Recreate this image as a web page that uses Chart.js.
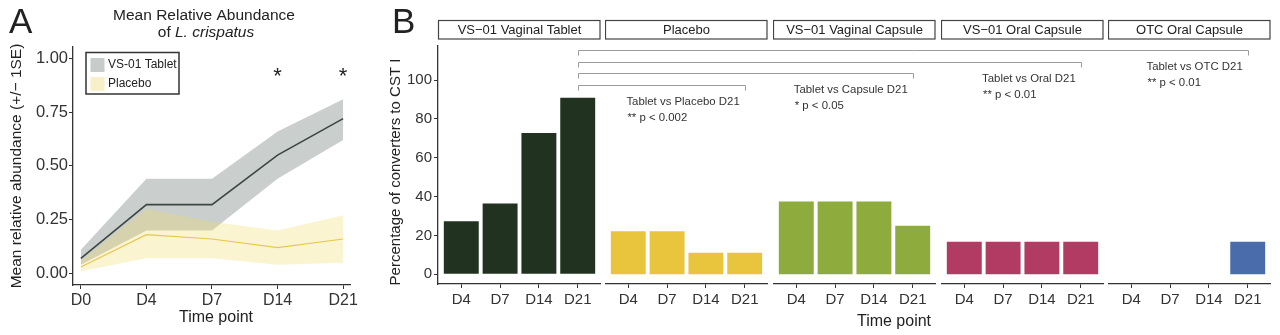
<!DOCTYPE html>
<html>
<head>
<meta charset="utf-8">
<script src="https://cdn.jsdelivr.net/npm/chart.js@4"></script>
<style>
  body { margin: 0; background: #fff; }
  #wrap { position: relative; width: 1280px; height: 335px; overflow: hidden; background: #fff; }
  #wrap canvas { position: absolute; top: 0; }
</style>
</head>
<body>
<div id="wrap"></div>
<script>
// Panel A: mean relative abundance of L. crispatus (+/- 1SE ribbons)
// Panel B: percentage of converters to CST I, faceted by product
const FONT = "'Liberation Sans', Arial, Helvetica, sans-serif";
const INK = '#333333';

// ---------- panel A data ----------
const days = ['D0', 'D4', 'D7', 'D14', 'D21'];
const tabletMean  = [0.07, 0.32, 0.32, 0.55, 0.72];
const tabletUpper = [0.11, 0.44, 0.44, 0.66, 0.81];
const tabletLower = [0.04, 0.20, 0.20, 0.44, 0.62];
const placeboMean  = [0.03, 0.18, 0.16, 0.12, 0.16];
const placeboUpper = [0.06, 0.30, 0.24, 0.20, 0.27];
const placeboLower = [0.01, 0.07, 0.07, 0.04, 0.05];
const yTicksA = [0, 0.25, 0.5, 0.75, 1.0];
const starDays = [3, 4];       // D14, D21 marked significant
const starLevel = 0.94;

// ---------- panel B data ----------
const timePoints = ['D4', 'D7', 'D14', 'D21'];
const groups = ['VS\u221201 Vaginal Tablet', 'Placebo', 'VS\u221201 Vaginal Capsule',
                'VS\u221201 Oral Capsule', 'OTC Oral Capsule'];
const groupColors = ['#213320', '#e8c53c', '#8eab3e', '#b13b63', '#4a6cab'];
const tabletPct      = [27.3, 36.4, 72.7, 90.9];
const placeboPct     = [22.2, 22.2, 11.1, 11.1];
const vagCapsulePct  = [37.5, 37.5, 37.5, 25.0];
const oralCapsulePct = [16.7, 16.7, 16.7, 16.7];
const otcCapsulePct  = [0, 0, 0, 16.7];
const groupValues = [tabletPct, placeboPct, vagCapsulePct, oralCapsulePct, otcCapsulePct];
const yTicksB = [0, 20, 40, 60, 80, 100];

// comparisons: tablet D21 vs each other group at D21
const compGroup  = [1, 2, 3, 4];
const compLevel  = [97.5, 103.5, 109.5, 115.5];
const compLabels = ['Tablet vs Placebo D21', 'Tablet vs Capsule D21',
                    'Tablet vs Oral D21', 'Tablet vs OTC D21'];
const compP      = ['** p < 0.002', '* p < 0.05', '** p < 0.01', '** p < 0.01'];

// ---------- helpers ----------
const wrap = document.getElementById('wrap');
function makeCanvas(left, width) {
    const c = document.createElement('canvas');
    c.width = width; c.height = 335;
    c.style.left = left + 'px';
    c.style.width = width + 'px';
    c.style.height = '335px';
    wrap.appendChild(c);
    return c;
}
function pts(arr) { return arr.map(function (v, i) { return { x: i, y: v }; }); }
function axisStyle() {
    return {
        border: { display: true, color: INK, width: 1.3 },
        grid: { display: true, drawOnChartArea: false, drawTicks: true,
                tickLength: 4, color: INK, lineWidth: 1 }
    };
}
function vText(ctx, text, x, y, size) {
    ctx.save();
    ctx.translate(x, y);
    ctx.rotate(-Math.PI / 2);
    ctx.font = size + 'px ' + FONT;
    ctx.fillStyle = '#222';
    ctx.textAlign = 'center';
    ctx.textBaseline = 'middle';
    ctx.fillText(text, 0, 0);
    ctx.restore();
}

// ---------- panel A ----------
const tabletRibbon = 'rgba(150,160,155,0.5)';
const placeboRibbon = 'rgba(240,218,100,0.30)';

const panelAPlugin = {
    id: 'panelA',
    afterDraw: function (chart) {
        const ctx = chart.ctx;
        const xs = chart.scales.x, ys = chart.scales.y;
        ctx.save();
        ctx.fillStyle = '#222';
        ctx.font = '35px ' + FONT;
        ctx.textAlign = 'left';
        ctx.textBaseline = 'alphabetic';
        ctx.fillText('A', 9, 33);

        // title
        ctx.font = '15.5px ' + FONT;
        ctx.textAlign = 'center';
        ctx.fillText('Mean Relative Abundance', 204, 20);
        const a = 'of ', b = 'L. crispatus';
        const wa = ctx.measureText(a).width;
        ctx.font = 'italic 15.5px ' + FONT;
        const wb = ctx.measureText(b).width;
        const x0 = 206 - (wa + wb) / 2;
        ctx.textAlign = 'left';
        ctx.font = '15.5px ' + FONT;
        ctx.fillText(a, x0, 37);
        ctx.font = 'italic 15.5px ' + FONT;
        ctx.fillText(b, x0 + wa, 37);

        // axis titles
        ctx.font = '16px ' + FONT;
        ctx.textAlign = 'center';
        ctx.textBaseline = 'middle';
        ctx.fillText('Time point', 216, 318);
        ctx.restore();
        vText(ctx, 'Mean relative abundance (+/\u2212 1SE)', 17, 166, 15.5);

        // significance stars
        ctx.save();
        ctx.fillStyle = '#222';
        ctx.font = '22px ' + FONT;
        ctx.textAlign = 'center';
        ctx.textBaseline = 'alphabetic';
        starDays.forEach(function (d) {
            ctx.fillText('*', xs.getPixelForValue(d), ys.getPixelForValue(starLevel) + 12);
        });

        // legend box
        ctx.strokeStyle = '#333';
        ctx.lineWidth = 1.5;
        ctx.strokeRect(86, 52.5, 93, 41.5);
        ctx.fillStyle = '#c7ccca';
        ctx.fillRect(90.5, 58, 14, 14);
        ctx.fillStyle = '#f8f0c9';
        ctx.fillRect(90.5, 77, 14, 14);
        ctx.fillStyle = '#222';
        ctx.font = '12px ' + FONT;
        ctx.textAlign = 'left';
        ctx.textBaseline = 'middle';
        ctx.fillText('VS-01 Tablet', 108, 65);
        ctx.fillText('Placebo', 108, 84);
        ctx.restore();
    }
};

const canvasA = makeCanvas(0, 360);
const axA = axisStyle(), ayA = axisStyle();
new Chart(canvasA, {
    type: 'line',
    data: {
        datasets: [
            { label: 'VS-01 Tablet', data: pts(tabletMean), borderColor: '#3d4742',
              borderWidth: 1.6, pointRadius: 0, fill: false },
            { label: 'Placebo', data: pts(placeboMean), borderColor: '#e6c850',
              borderWidth: 1.2, pointRadius: 0, fill: false },
            { label: 'Placebo upper', data: pts(placeboUpper), borderColor: 'transparent',
              borderWidth: 0, pointRadius: 0, fill: '+1', backgroundColor: placeboRibbon },
            { label: 'Placebo lower', data: pts(placeboLower), borderColor: 'transparent',
              borderWidth: 0, pointRadius: 0, fill: false },
            { label: 'Tablet upper', data: pts(tabletUpper), borderColor: 'transparent',
              borderWidth: 0, pointRadius: 0, fill: '+1', backgroundColor: tabletRibbon },
            { label: 'Tablet lower', data: pts(tabletLower), borderColor: 'transparent',
              borderWidth: 0, pointRadius: 0, fill: false }
        ]
    },
    options: {
        responsive: false,
        animation: false,
        events: [],
        layout: { padding: { top: 47, right: 7, left: 0, bottom: 0 } },
        plugins: { legend: { display: false }, tooltip: { enabled: false } },
        scales: {
            x: {
                type: 'linear', min: -0.12, max: 4.12, offset: false,
                border: axA.border, grid: axA.grid,
                afterBuildTicks: function (s) { s.ticks = days.map(function (d, i) { return { value: i }; }); },
                afterFit: function (s) { s.height = 50; },
                ticks: { callback: function (v) { return days[v]; }, autoSkip: false, maxRotation: 0,
                         font: { family: FONT, size: 16 }, color: INK, padding: 2 }
            },
            y: {
                min: -0.054, max: 1.053,
                border: ayA.border, grid: ayA.grid,
                afterBuildTicks: function (s) { s.ticks = yTicksA.map(function (v) { return { value: v }; }); },
                afterFit: function (s) { s.width = 73; },
                ticks: { callback: function (v) { return v.toFixed(2); },
                         font: { family: FONT, size: 16.5 }, color: INK, padding: 1 }
            }
        }
    },
    plugins: [panelAPlugin]
});

// ---------- panel B ----------
const facetLefts = [438, 605, 773, 941, 1108];
const facetWidth = 163;
const facetCharts = [];

const stripPlugin = {
    id: 'strip',
    afterDraw: function (chart) {
        const ctx = chart.ctx;
        const area = chart.chartArea;
        const g = chart.options.plugins.strip.group;
        ctx.save();
        ctx.fillStyle = '#fff';
        ctx.strokeStyle = '#444';
        ctx.lineWidth = 1.2;
        ctx.fillRect(area.left, 20, area.right - area.left - 1, 19);
        ctx.strokeRect(area.left + 0.5, 20.5, area.right - area.left - 1.5, 18.5);
        ctx.fillStyle = '#222';
        ctx.font = '13px ' + FONT;
        ctx.textAlign = 'center';
        ctx.textBaseline = 'middle';
        ctx.fillText(groups[g], (area.left + area.right) / 2, 30.5);
        if (g === 0) {
            ctx.font = '35px ' + FONT;
            ctx.textAlign = 'left';
            ctx.textBaseline = 'alphabetic';
            ctx.fillText('B', 7, 33);
            ctx.restore();
            vText(ctx, 'Percentage of converters to CST I', 11, 172, 15);
            return;
        }
        ctx.restore();
    }
};

groups.forEach(function (name, g) {
    const yAxisW = g === 0 ? 53 : 0;
    const cv = makeCanvas(facetLefts[g] - yAxisW, facetWidth + yAxisW);
    const ax = axisStyle(), ay = axisStyle();
    const chart = new Chart(cv, {
        type: 'bar',
        data: {
            datasets: [{
                label: name,
                data: pts(groupValues[g]),
                backgroundColor: groupColors[g],
                borderWidth: 0,
                barPercentage: 0.9,
                categoryPercentage: 1.0
            }]
        },
        options: {
            responsive: false,
            animation: false,
            events: [],
            layout: { padding: { top: 46, right: 0, left: 0, bottom: 0 } },
            plugins: { legend: { display: false }, tooltip: { enabled: false },
                       strip: { group: g } },
            scales: {
                x: {
                    type: 'linear', min: -0.6, max: 3.6, offset: false,
                    border: ax.border, grid: Object.assign({}, ax.grid, { offset: false }),
                    afterBuildTicks: function (s) { s.ticks = timePoints.map(function (d, i) { return { value: i }; }); },
                    afterFit: function (s) { s.height = 51; },
                    ticks: { callback: function (v) { return timePoints[v]; }, autoSkip: false, maxRotation: 0,
                             font: { family: FONT, size: 15 }, color: INK, padding: 3 }
                },
                y: {
                    display: g === 0,
                    min: -5, max: 117.5,
                    border: ay.border, grid: ay.grid,
                    afterBuildTicks: function (s) { s.ticks = yTicksB.map(function (v) { return { value: v }; }); },
                    afterFit: function (s) { s.width = yAxisW; },
                    ticks: { font: { family: FONT, size: 15 }, color: INK, padding: 2 }
                }
            }
        },
        plugins: [stripPlugin]
    });
    facetCharts.push({ chart: chart, left: facetLefts[g] - yAxisW });
});

// ---------- overlay: comparison brackets and labels ----------
const overlay = makeCanvas(0, 1280);
overlay.style.pointerEvents = 'none';
(function drawOverlay() {
    const ctx = overlay.getContext('2d');
    const base = facetCharts[0];
    const xL = base.left + base.chart.scales.x.getPixelForValue(3);
    compGroup.forEach(function (g, k) {
        const f = facetCharts[g];
        const xR = f.left + f.chart.scales.x.getPixelForValue(3);
        const y = Math.round(base.chart.scales.y.getPixelForValue(compLevel[k])) + 0.5;
        ctx.strokeStyle = '#9c9c9c';
        ctx.lineWidth = 1;
        ctx.beginPath();
        ctx.moveTo(Math.round(xL) + 0.5, y + 5);
        ctx.lineTo(Math.round(xL) + 0.5, y);
        ctx.lineTo(Math.round(xR) + 0.5, y);
        ctx.lineTo(Math.round(xR) + 0.5, y + 5);
        ctx.stroke();

        ctx.fillStyle = '#333';
        ctx.font = '11.4px ' + FONT;
        ctx.textAlign = 'left';
        ctx.textBaseline = 'alphabetic';
        const w = ctx.measureText(compLabels[k]).width;
        const tx = xR - 5 - w;
        ctx.fillText(compLabels[k], tx, y + 19);
        ctx.fillText(compP[k], tx + 1, y + 35);
    });
    ctx.fillStyle = '#222';
    ctx.font = '16px ' + FONT;
    ctx.textAlign = 'center';
    ctx.textBaseline = 'middle';
    ctx.fillText('Time point', 894, 322);
})();
</script>
</body>
</html>
